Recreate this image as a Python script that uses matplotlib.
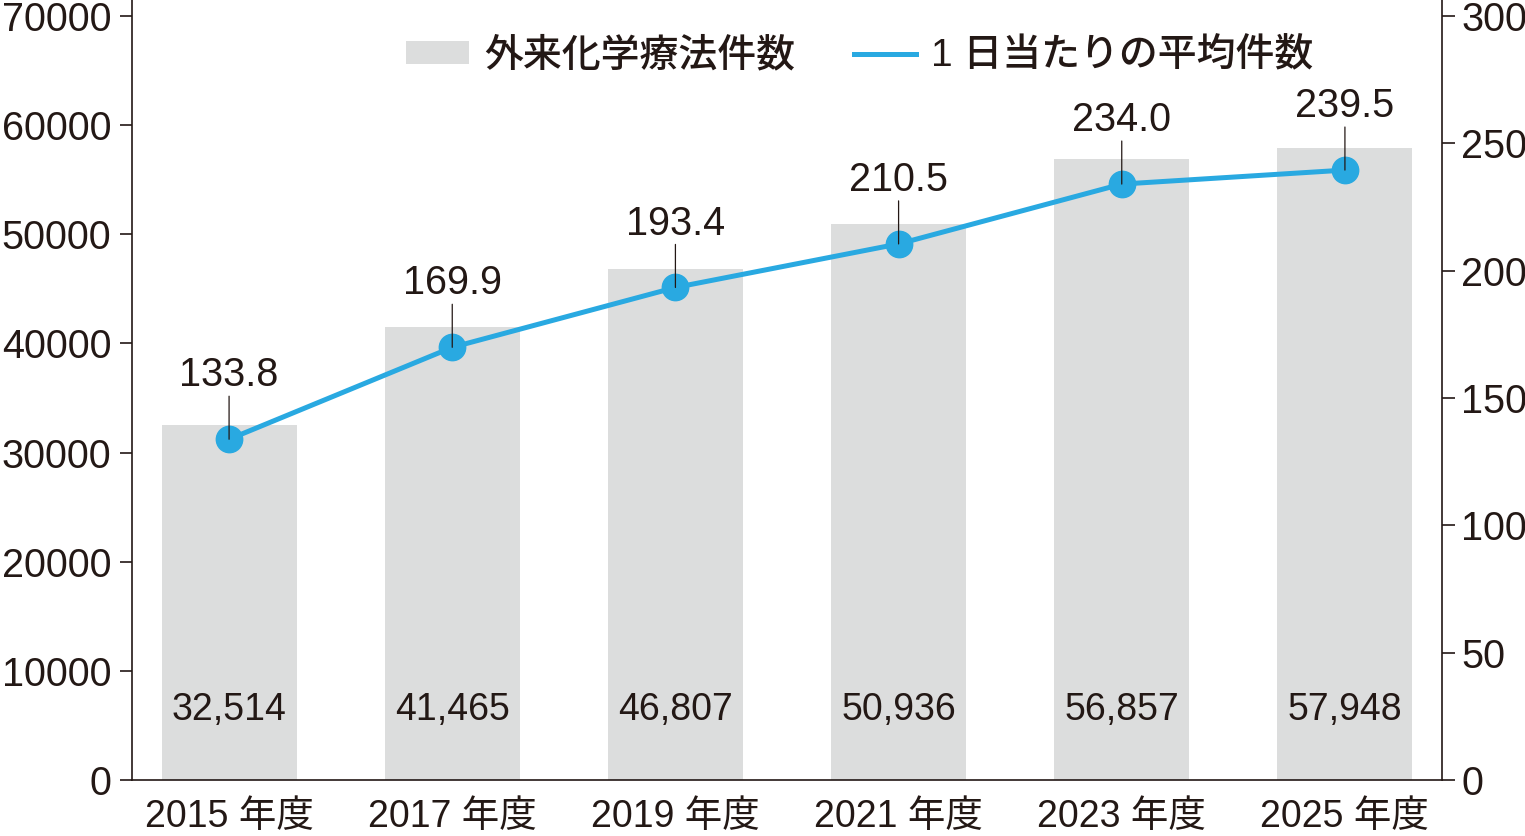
import matplotlib
matplotlib.use("Agg")
import matplotlib.pyplot as plt
from matplotlib.patches import Patch
from matplotlib.lines import Line2D

categories = ["2015 年度", "2017 年度", "2019 年度", "2021 年度", "2023 年度", "2025 年度"]
counts = [32514, 41465, 46807, 50936, 56857, 57948]
daily_avg = [133.8, 169.9, 193.4, 210.5, 234.0, 239.5]
left_ticks = [0, 10000, 20000, 30000, 40000, 50000, 60000, 70000]
right_ticks = [0, 50, 100, 150, 200, 250, 300]
legend_labels = ["外来化学療法件数", "1 日当たりの平均件数"]

plt.rcParams['font.family'] = ['Liberation Sans', 'Noto Sans CJK JP', 'DejaVu Sans']
INK = "#231815"
BAR = "#DCDDDD"
BLUE = "#29A9E1"
FS = 27
TFS = 28.5

W, H = 1525, 836
fig = plt.figure(figsize=(W / 100, H / 100), dpi=100)
ax_left, ax_right, ax_top, ax_bot = 132, 1442, 0, 780
ax = fig.add_axes([ax_left / W, 1 - ax_bot / H, (ax_right - ax_left) / W, (ax_bot - ax_top) / H])

px_per_10k = (780 - 16) / 7.0
ymax_left = 780 / px_per_10k * 10000
ymax_right = ymax_left * 300 / 70000

x = list(range(len(categories)))
ax.bar(x, counts, width=0.605, color=BAR, zorder=1)
ax.set_xlim(-0.435, len(categories) - 1 + 0.435)
ax.set_ylim(0, ymax_left)
ax.set_yticks(left_ticks)
ax.set_yticklabels([str(t) for t in left_ticks])
ax.set_xticks(x)
ax.set_xticklabels(categories)

for xi, c in zip(x, counts):
    ax.text(xi, 6400, f"{c:,}", ha="center", va="center", fontsize=FS, color=INK, zorder=3)

ax2 = ax.twinx()
ax2.set_ylim(0, ymax_right)
ax2.set_yticks(right_ticks)
ax2.set_yticklabels([str(t) for t in right_ticks])
ax2.plot(x, daily_avg, color=BLUE, lw=3.6, marker="o", markersize=19, zorder=3)

for xi, v in zip(x, daily_avg):
    ax2.annotate("", xy=(xi, v), xytext=(0, 31), textcoords="offset points",
                 arrowprops=dict(arrowstyle="-", lw=0.9, color=INK, shrinkA=0, shrinkB=0), zorder=4)
    ax2.annotate(f"{v:.1f}", xy=(xi, v), xytext=(0, 46), textcoords="offset points",
                 ha="center", va="center", fontsize=TFS, color=INK, zorder=4)

for a in (ax, ax2):
    a.spines["top"].set_visible(False)
    for s in a.spines.values():
        s.set_color(INK)
        s.set_linewidth(1.2)
ax.spines["right"].set_visible(False)
ax2.spines["left"].set_visible(False)
ax2.spines["bottom"].set_visible(False)

ax.tick_params(axis="y", direction="out", length=9, width=1.2, color=INK, pad=6, labelsize=TFS, labelcolor=INK)
ax.tick_params(axis="x", length=0, pad=14, labelsize=FS, labelcolor=INK)
ax2.tick_params(axis="y", direction="out", length=9, width=1.2, color=INK, pad=5, labelsize=TFS, labelcolor=INK)
ax.set_zorder(0)
ax2.set_zorder(1)
ax2.patch.set_visible(False)

handles = [Patch(facecolor=BAR, edgecolor="none"), Line2D([0], [0], color=BLUE, lw=3.6)]
leg = ax2.legend(handles, legend_labels, loc="center", bbox_to_anchor=(860 / W, 1 - 56 / H),
                 bbox_transform=fig.transFigure, ncol=2, frameon=False,
                 prop=dict(size=28, weight="medium"),
                 handlelength=1.6, handleheight=0.5, handletextpad=0.4, columnspacing=1.5,
                 borderpad=0, borderaxespad=0)
for t in leg.get_texts():
    t.set_color(INK)

fig.savefig("out.png", dpi=100)
